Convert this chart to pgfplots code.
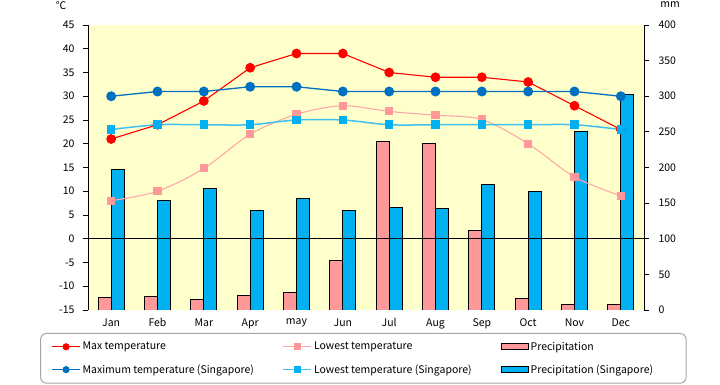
\documentclass[border=0pt]{standalone}
\usepackage{pgfplots}
\pgfplotsset{compat=1.18}
\usepackage{fontspec}
\setmainfont{Noto Sans CJK JP}
\definecolor{bgy}{HTML}{FFFFCC}
\definecolor{pinkbar}{HTML}{FF9999}
\definecolor{bluebar}{HTML}{00B0F0}
\definecolor{redl}{HTML}{FF0000}
\definecolor{pinkl}{HTML}{FFA8A8}
\definecolor{pinkm}{HTML}{FF9999}
\definecolor{dblue}{HTML}{0070C0}
\definecolor{lbluel}{HTML}{40C0F0}
\definecolor{lbluem}{HTML}{00B0F0}
\begin{document}
\begin{tikzpicture}[font=\fontsize{10.5bp}{12bp}\selectfont]
\path[use as bounding box] (0,0) rectangle (720bp,385bp);
\pgfplotsset{
  base/.style={
    scale only axis, width=556bp, height=285bp,
    at={(88bp,75bp)}, anchor=south west,
    xmin=-0.5, xmax=11.5,
    tick align=outside, major tick length=5bp,
    tick style={black, line width=0.8bp},
    /pgf/number format/assume math mode=true,
    ticklabel style={font=\fontsize{10.5bp}{12bp}\selectfont},
  }
}
\begin{axis}[base, name=axR,
  axis background/.style={fill=bgy},
  ymin=0, ymax=400, ytick={0,50,...,400},
  axis y line*=right, axis x line*=bottom,
  x axis line style={draw=none},
  y axis line style={black, line width=0.8bp},
  yticklabel style={xshift=6bp},
  xtick={0,...,11},
  xticklabels={Jan,Feb,Mar,Apr,may,Jun,Jul,Aug,Sep,Oct,Nov,Dec},
  major x tick style={draw=none},
  ybar=0pt, bar width=13bp,
]
\addplot[fill=pinkbar, draw=black, line width=0.8bp] coordinates {
(0,18) (1,19) (2,15) (3,21) (4,25) (5,70) (6,237) (7,234) (8,112) (9,16) (10,8) (11,8)};
\addplot[fill=bluebar, draw=black, line width=0.8bp] coordinates {
(0,197) (1,154) (2,171) (3,140) (4,157) (5,140) (6,144) (7,143) (8,176) (9,167) (10,251) (11,303)};
\end{axis}
\node at ([xshift=26bp,yshift=20bp]axR.north east) {mm};
\begin{axis}[base, name=axL,
  ymin=-15, ymax=45, ytick={-15,-10,...,45},
  axis y line*=left, axis x line*=middle, xtick=\empty,
  x axis line style={black, line width=0.8bp},
  y axis line style={black, line width=0.8bp},
  yticklabel style={xshift=-5bp},
  legend columns=3,
  legend cell align=left,
  legend style={at={(axis description cs:-0.0863,-0.0807)}, anchor=north west,
    draw=black!35, line width=1bp, rounded corners=6bp,
    /tikz/every even column/.append style={column sep=27bp},
    row sep=9bp, inner xsep=11bp, inner ysep=6.5bp,
    font=\fontsize{10.5bp}{12bp}\selectfont},
  linelegend/.style={legend image code/.code={%
    \draw[sharp corners,mark repeat=2,mark phase=2,##1] plot coordinates {(0bp,0bp) (14bp,0bp) (28bp,0bp)};}},
  barlegend/.style={legend image code/.code={%
    \draw[sharp corners,##1] (0bp,-3bp) rectangle (27bp,3bp);}},
]
\addplot[forget plot, redl, line width=1.1bp, mark=*, mark size=4.3bp] coordinates {
(0,21) (1,24) (2,29) (3,36) (4,39) (5,39) (6,35) (7,34) (8,34) (9,33) (10,28) (11,23)};
\addplot[forget plot, pinkl, line width=1.1bp, smooth, mark=square*, mark size=3.5bp, mark options={pinkm}] coordinates {
(0,8) (1,10) (2,14.8) (3,22) (4,26.2) (5,28) (6,26.8) (7,26) (8,25.1) (9,20) (10,13) (11,9)};
\addplot[forget plot, dblue, line width=1.3bp, mark=*, mark size=4.3bp] coordinates {
(0,30) (1,31) (2,31) (3,32) (4,32) (5,31) (6,31) (7,31) (8,31) (9,31) (10,31) (11,30)};
\addplot[forget plot, lbluel, line width=1.5bp, smooth, mark=square*, mark size=3.5bp, mark options={lbluem}] coordinates {
(0,23) (1,24) (2,24) (3,24) (4,25) (5,25) (6,24) (7,24) (8,24) (9,24) (10,24) (11,23)};
\addlegendimage{linelegend, redl, line width=1.1bp, mark=*, mark size=3bp}
\addlegendentry{Max temperature}
\addlegendimage{linelegend, pinkl, line width=1.1bp, mark=square*, mark size=3bp, mark options={pinkm}}
\addlegendentry{Lowest temperature}
\addlegendimage{barlegend, fill=pinkbar, draw=black, line width=1bp}
\addlegendentry{Precipitation}
\addlegendimage{linelegend, dblue, line width=1.1bp, mark=*, mark size=3bp}
\addlegendentry{Maximum temperature (Singapore)}
\addlegendimage{linelegend, lbluel, line width=1.1bp, mark=square*, mark size=3bp, mark options={lbluem}}
\addlegendentry{Lowest temperature (Singapore)}
\addlegendimage{barlegend, fill=bluebar, draw=black, line width=1bp}
\addlegendentry{Precipitation (Singapore)\hspace*{20bp}}
\end{axis}
\node at ([xshift=-27bp,yshift=19bp]axL.north west) {℃};
\end{tikzpicture}
\end{document}
